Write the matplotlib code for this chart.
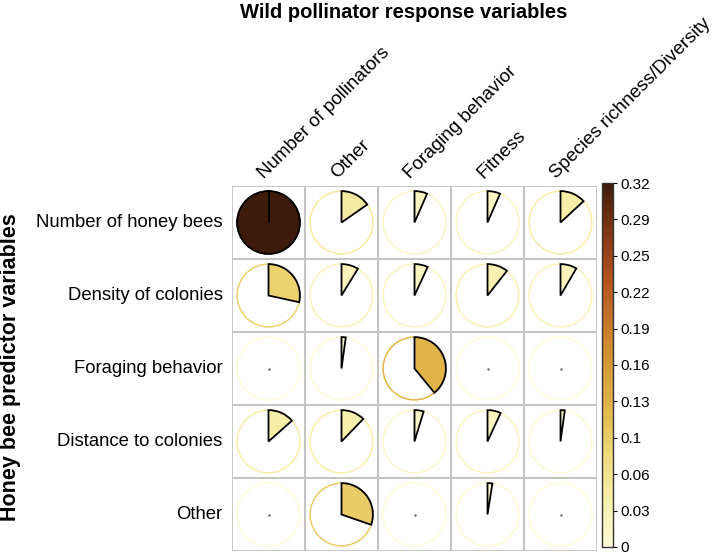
import numpy as np
import matplotlib.pyplot as plt
from matplotlib.patches import Wedge, Circle, Rectangle
from matplotlib.colors import LinearSegmentedColormap, Normalize
from matplotlib.cm import ScalarMappable

plt.rcParams['font.family'] = ['Liberation Sans', 'DejaVu Sans']

# predictors (rows) and responses (columns)
rows = ['Number of honey bees', 'Density of colonies', 'Foraging behavior',
        'Distance to colonies', 'Other']
cols = ['Number of pollinators', 'Other', 'Foraging behavior', 'Fitness',
        'Species richness/Diversity']

# proportions (full pie = 0.32)
vals = np.array([
    [0.320, 0.049, 0.021, 0.021, 0.042],
    [0.091, 0.028, 0.022, 0.034, 0.027],
    [0.000, 0.007, 0.125, 0.000, 0.000],
    [0.043, 0.039, 0.015, 0.022, 0.007],
    [0.000, 0.097, 0.000, 0.008, 0.000],
])
vmax = 0.32
cbar_ticks = np.linspace(0, vmax, 11)
cbar_labels = ['0', '0.03', '0.06', '0.1', '0.13', '0.16', '0.19', '0.22',
               '0.25', '0.29', '0.32']

cmap = LinearSegmentedColormap.from_list('pollen', [
    '#FFFCDC', '#F7EFAA', '#EFDA7C', '#E2B84A', '#D69A34',
    '#C8742A', '#B04F1E', '#7E3414', '#3E1A0B'])
norm = Normalize(0, vmax)

W, H = 715, 555
fig = plt.figure(figsize=(W / 100, H / 100), dpi=100)
ax = fig.add_axes([232 / W, (H - 551) / H, 365 / W, 365 / H])

nr, nc = vals.shape
r = 0.43
for i in range(nr):
    for j in range(nc):
        x, y = j + 0.5, nr - i - 0.5
        v = vals[i, j]
        c = cmap(norm(v))
        ax.add_patch(Rectangle((j, nr - i - 1), 1, 1, fill=False,
                               edgecolor='#C4C4C4', lw=1.3, zorder=1))
        ax.add_patch(Circle((x, y), r, fill=False, edgecolor=c, lw=1.1, zorder=2))
        ang = v / vmax * 360
        if v == 0:
            ax.plot([x], [y], marker='s', ms=0.7, color='#666666', zorder=4)
        elif ang >= 359.9:
            ax.add_patch(Circle((x, y), r, facecolor=c, edgecolor='black',
                                lw=1.3, zorder=3))
            ax.plot([x, x], [y, y + r], color='black', lw=1.3, zorder=4)
        else:
            ax.add_patch(Wedge((x, y), r, 90 - ang, 90, facecolor=c,
                               edgecolor='black', lw=1.3, zorder=3))

ax.set_xlim(0, nc)
ax.set_ylim(0, nr)
ax.set_axis_off()

for i, lab in enumerate(rows):
    ax.text(-0.13, nr - i - 0.5, lab, ha='right', va='center', fontsize=13.3)
for j, lab in enumerate(cols):
    ax.text(j + 0.44, nr + 0.1, lab, ha='left', va='baseline', rotation=45,
            rotation_mode='anchor', fontsize=13.6)

fig.text(404 / W, 1 - 12 / H, 'Wild pollinator response variables',
         ha='center', va='center', fontsize=14.5, fontweight='bold')
fig.text(11 / W, 1 - 367 / H, 'Honey bee predictor variables', ha='center',
         va='center', rotation=90, fontsize=15.5, fontweight='bold')

cax = fig.add_axes([602 / W, (H - 547) / H, 11 / W, 364 / H])
cb = fig.colorbar(ScalarMappable(norm=norm, cmap=cmap), cax=cax)
cb.set_ticks(cbar_ticks)
cb.set_ticklabels(cbar_labels)
cb.outline.set_edgecolor('#333333')
cb.outline.set_linewidth(1.0)
cax.tick_params(length=3, width=0.8, labelsize=11, pad=2)

fig.savefig('out.png', dpi=100)
